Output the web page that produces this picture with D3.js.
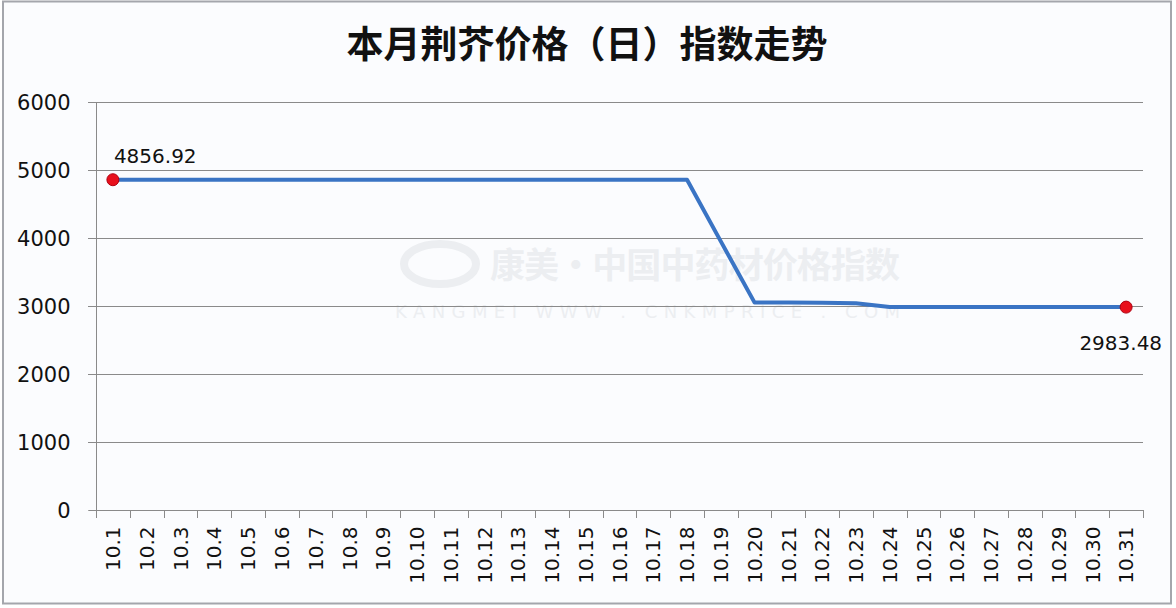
<!DOCTYPE html>
<html><head><meta charset="utf-8">
<script src="https://cdn.jsdelivr.net/npm/d3@7/dist/d3.min.js"></script>
<style>html,body{margin:0;padding:0;background:#fff;}svg{display:block;}</style>
</head><body>
<script>
const title = "本月荆芥价格（日）指数走势";
const categories = ["10.1","10.2","10.3","10.4","10.5","10.6","10.7","10.8","10.9","10.10","10.11","10.12","10.13","10.14","10.15","10.16","10.17","10.18","10.19","10.20","10.21","10.22","10.23","10.24","10.25","10.26","10.27","10.28","10.29","10.30","10.31"];
const values = [4856.92,4856.92,4856.92,4856.92,4856.92,4856.92,4856.92,4856.92,4856.92,4856.92,4856.92,4856.92,4856.92,4856.92,4856.92,4856.92,4856.92,4856.92,3950,3050,3050,3048,3040,2985,2983.48,2983.48,2983.48,2983.48,2983.48,2983.48,2983.48];
const yTicks = [0,1000,2000,3000,4000,5000,6000];
const labeled = [0, 30];

const W = 1176, H = 608;
const svg = d3.select("body").append("svg").attr("width", W).attr("height", H);
svg.append("rect").attr("x",0).attr("y",0).attr("width",W).attr("height",H).attr("fill","#ffffff");
svg.append("rect").attr("x",3).attr("y",1.5).attr("width",1168).attr("height",602)
  .attr("fill","#fbfcfe").attr("stroke","#a4a6ac").attr("stroke-width",2);

const L = 96, R = 1143, T = 102, B = 510;
const x = d3.scaleBand().domain(categories).range([L, R]).paddingInner(0).paddingOuter(0);
const y = d3.scaleLinear().domain([0, 6000]).range([B, T]);

// watermark
const wmc = "#eceef1";
const wm = svg.append("g").attr("fill", wmc).attr("font-family","'Noto Sans CJK SC', sans-serif");
wm.append("text").attr("x", 490).attr("y", 278).attr("font-size", 35).attr("font-weight", "bold").attr("textLength", 410).text("康美·中国中药材价格指数");
wm.append("text").attr("x", 395).attr("y", 318).attr("font-size", 18).attr("textLength", 505).attr("font-family","'DejaVu Sans', sans-serif").text("KANGMEI WWW . CNKMPRICE . COM");
wm.append("ellipse").attr("cx", 440).attr("cy", 264).attr("rx", 36).attr("ry", 20).attr("fill","none").attr("stroke", wmc).attr("stroke-width",8);

// gridlines
svg.append("g").selectAll("line").data(yTicks.filter(d => d > 0)).join("line")
  .attr("x1", 88).attr("x2", R).attr("y1", d => y(d) + 0.5).attr("y2", d => y(d) + 0.5)
  .attr("stroke", "#8a8a8a").attr("stroke-width", 1);

// y axis
const ya = svg.append("g").attr("transform", `translate(${L + 0.5},0)`)
  .call(d3.axisLeft(y).tickValues(yTicks).tickSize(8).tickPadding(18).tickFormat(d3.format("d")));
ya.select(".domain").attr("stroke", "#8a8a8a").attr("d", `M-8,${T+0.5}H0V${B+0.5}H-8`);
ya.selectAll(".tick line").attr("stroke", "#8a8a8a");
ya.selectAll(".tick text").attr("font-family", "'DejaVu Sans', sans-serif").attr("font-size", 21).attr("fill", "#111").attr("dy", "0.36em");

// x axis
const xa = svg.append("g").attr("transform", `translate(0,${B + 0.5})`)
  .call(d3.axisBottom(x).tickSize(0).tickFormat(d => d));
xa.select(".domain").attr("stroke", "#8a8a8a").attr("d", `M${L},0H${R}`);
xa.selectAll(".tick text").attr("font-family", "'DejaVu Sans', sans-serif").attr("font-size", 20).attr("fill", "#111")
  .attr("text-anchor", "end").attr("transform", "rotate(-90)").attr("x", -16).attr("y", 0).attr("dy", "0.36em");
const bounds = categories.map(c => x(c)).concat([R]);
svg.append("g").selectAll("line").data(bounds).join("line")
  .attr("x1", d => Math.round(d) + 0.5).attr("x2", d => Math.round(d) + 0.5)
  .attr("y1", B).attr("y2", B + 8).attr("stroke", "#8a8a8a");

// title
svg.append("text").attr("x", 587).attr("y", 58).attr("text-anchor", "middle")
  .attr("font-family", "'Noto Sans CJK SC', sans-serif").attr("font-weight", "bold").attr("font-size", 37)
  .attr("fill", "#111").text(title);

// line
const cx = i => x(categories[i]) + x.bandwidth() / 2;
svg.append("path").datum(values)
  .attr("d", d3.line().x((d, i) => cx(i)).y(d => y(d)))
  .attr("fill", "none").attr("stroke", "#3a74c4").attr("stroke-width", 4).attr("stroke-linejoin", "round");

// markers
svg.append("g").selectAll("circle").data(labeled).join("circle")
  .attr("cx", i => cx(i)).attr("cy", i => y(values[i])).attr("r", 6)
  .attr("fill", "#e8101c").attr("stroke", "#b00010").attr("stroke-width", 1);

// data labels
const lab = svg.append("g").attr("font-family", "'DejaVu Sans', sans-serif").attr("font-size", 20).attr("fill", "#111");
lab.append("text").attr("x", cx(0) + 1).attr("y", y(values[0]) - 17).attr("text-anchor", "start").text(values[0].toFixed(2));
lab.append("text").attr("x", cx(30) + 36).attr("y", y(values[30]) + 43).attr("text-anchor", "end").text(values[30].toFixed(2));
</script>
</body></html>
